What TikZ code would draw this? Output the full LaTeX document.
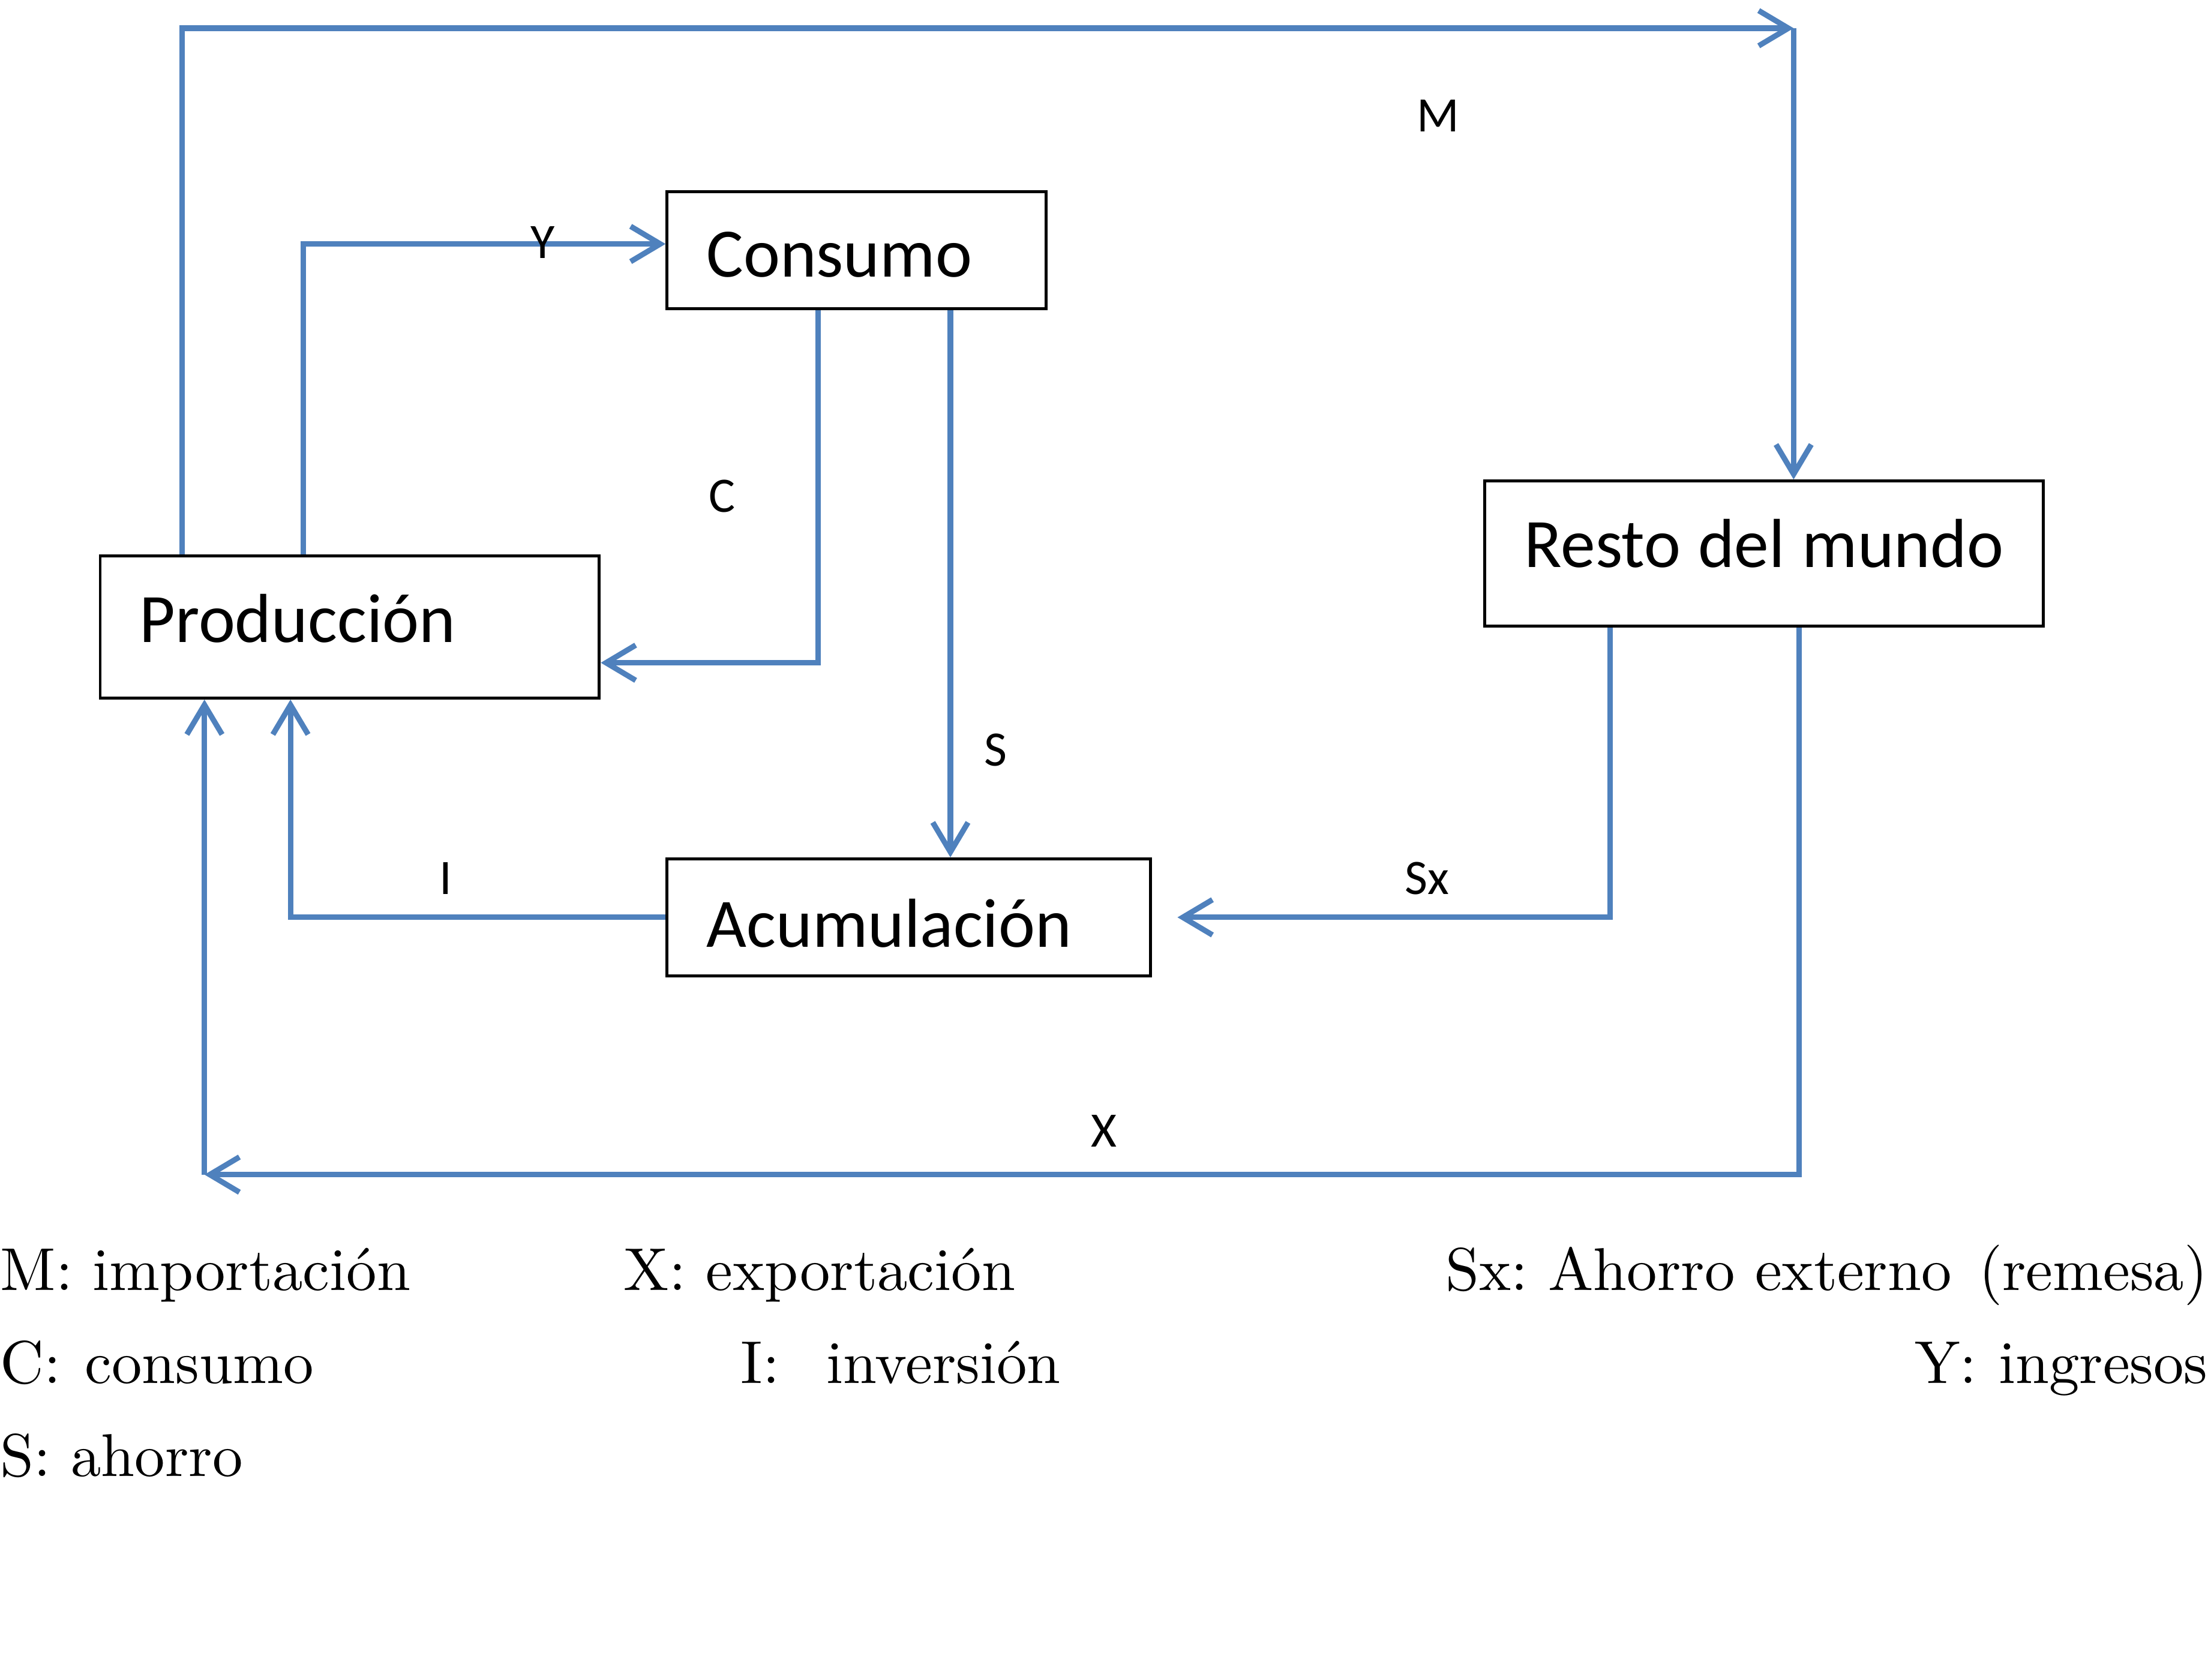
\documentclass[tikz,border=0pt]{standalone}
\usepackage{fontspec}
\newfontfamily\calib{Carlito}
\newfontfamily\leyfont{lmroman10-regular.otf}
\usetikzlibrary{arrows.meta,calc}
\definecolor{azul}{RGB}{79,129,189}
\newcommand\subir[2]{\raisebox{#1}[\height][\depth]{#2}}
\begin{document}
\begin{tikzpicture}[x=0.02cm,y=-0.02cm,
    flujo/.style={draw=azul,line width=2.2pt,-{Straight Barb[length=0.42cm,width=0.5cm]}},
    caja/.style={draw,line width=1.2pt,anchor=north west,inner xsep=0.56cm,inner ysep=0pt,align=left,font=\calib\fontsize{28}{32}\selectfont},
    etiq/.style={font=\calib\fontsize{20}{24}\selectfont},
    leyenda/.style={inner sep=0pt,font=\leyfont\fontsize{24.4}{28}\selectfont\frenchspacing}]
    \useasboundingbox (0,0) rectangle (1568,1191);
    % cajas
    \node[caja,text width=5.96cm,minimum height=2.02cm] (prod) at (70,393) {\subir{0.12cm}{Producción}};
    \node[caja,text width=4.26cm,minimum height=1.66cm] (cons) at (472,135) {\subir{-0.06cm}{Consumo}};
    \node[caja,text width=5.74cm,minimum height=1.66cm] (acum) at (472,608) {\subir{-0.08cm}{Acumulación}};
    \node[caja,text width=6.8cm,minimum height=2.06cm] (resto) at (1052,340) {\subir{0.14cm}{Resto\hspace{0.25em}del\hspace{0.25em}mundo}};
    \coordinate (esqM) at (1272,20);
    \coordinate (esqX) at (145,833);
    % flujos
    \draw[flujo] ($(prod.north west)+(59,0)$) |- (esqM);
    \draw[flujo] (esqM) -- ($(resto.north west)+(220,0)$);
    \draw[flujo] ($(prod.north west)+(145,0)$) |- ($(cons.north west)+(0,38)$);
    \draw[flujo] ($(cons.south west)+(108,0)$) |- ($(prod.north east)+(0,77)$);
    \draw[flujo] ($(cons.south west)+(202,0)$) -- ($(acum.north west)+(202,0)$);
    \draw[flujo] (acum.west) -| ($(prod.south west)+(136,0)$);
    \draw[flujo] ($(resto.south west)+(90,0)$) |- ($(acum.east)+(18,0)$);
    \draw[flujo] ($(resto.south west)+(224,0)$) |- (esqX);
    \draw[flujo] (esqX) -- ($(prod.south west)+(75,0)$);
    % etiquetas
    \node[etiq] (eM) at (1020,82) {M};
    \node[etiq] (eY) at (385,172) {Y};
    \node[etiq] (eC) at (512,352) {C};
    \node[etiq] (eS) at (706,532) {S};
    \node[etiq] (eI) at (316,623) {I};
    \node[etiq] (eSx) at (1012,623) {Sx};
    \node[etiq] (eX) at (783,802) {X};
    % leyenda
    \node[leyenda,anchor=base west] (lM) at (0,915) {M: importación};
    \node[leyenda,anchor=base west] (lX) at (442,915) {X: exportación};
    \node[leyenda,anchor=base east] (lSx) at (1566,915) {Sx: Ahorro externo\hspace{0.45em}(remesa)};
    \node[leyenda,anchor=base west] (lC) at (0,981) {C:\hspace{0.4em}consumo};
    \node[leyenda,anchor=base west] (lI) at (525,981) {I:\hspace{0.78em}inversión};
    \node[leyenda,anchor=base east] (lY) at (1566,981) {Y:\hspace{0.36em}ingresos};
    \node[leyenda,anchor=base west] (lS) at (0,1047) {S: ahorro};
\end{tikzpicture}
\end{document}
